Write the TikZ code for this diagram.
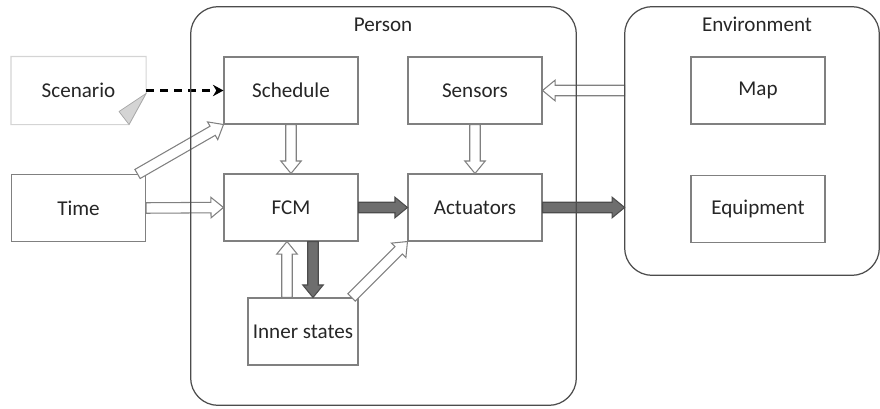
\documentclass[tikz,border=0pt]{standalone}
\usepackage{fontspec}
\setmainfont{Carlito}
\usetikzlibrary{calc,arrows.meta}
\definecolor{boxgray}{HTML}{808080}
\definecolor{notegray}{HTML}{D4D4D4}
\definecolor{darkfill}{HTML}{6E6E6E}

\begin{document}
\begin{tikzpicture}[line join=miter, >=Stealth, font=\fontsize{12}{14}\selectfont,
		box/.style={draw=boxgray, line width=0.6pt, minimum width=2.68cm, minimum height=1.34cm, text=black!85, inner sep=0pt},
		group/.style={draw=black!70, line width=0.7pt, rounded corners=0.55cm},
		hollow/.style={draw=boxgray, fill=white, line width=0.6pt},
		darkarrow/.style={draw=black!70, fill=darkfill, line width=0.6pt},
		dasharrow/.style={black, line width=1.3pt, dash pattern=on 4.6pt off 3.4pt, -{Stealth[length=6pt, width=6.5pt]}}]
	\useasboundingbox (0,0) rectangle (17.6,8.16);
	\def\blockarrow#1#2#3{
		\coordinate (h) at ($(#2)!0.25cm!(#1)$);
		\draw[#3] ($(#1)!0.105cm!90:(#2)$) -- ($(h)!0.105cm!90:(#2)$) -- ($(h)!0.205cm!90:(#2)$) -- (#2) -- ($(h)!0.205cm!-90:(#2)$) -- ($(h)!0.105cm!-90:(#2)$) -- ($(#1)!0.105cm!-90:(#2)$) -- cycle;
	}
	
	\node[minimum width=7.7cm, minimum height=7.96cm] (person) at (7.67, 4.04) {};
	\node[minimum width=5.08cm, minimum height=5.36cm] (env) at (15.04, 5.34) {};
	\node[text=black!85] (personlbl) at (7.66, 7.66) {Person};
	\node[text=black!85] (envlbl) at (15.14, 7.68) {Environment};
	
	\node[box, draw=none] (scen) at (1.57, 6.35) {Scenario};
	\draw[notegray, line width=0.6pt] (scen.north west) -- (scen.north east) -- ([yshift=0.62cm]scen.south east) -- ([xshift=-0.34cm]scen.south east) -- (scen.south west) -- cycle;
	\draw[fill=notegray, draw=boxgray!70, line width=0.4pt] ([yshift=0.62cm]scen.south east) -- ($(scen.south east)+(-0.54, 0.26)$) -- ([xshift=-0.34cm]scen.south east) -- cycle;
	
	\node[box] (sched) at (5.82, 6.35) {Schedule};
	\node[box] (sens) at (9.5, 6.35) {Sensors};
	\node[box] (time) at (1.57, 4.0) {Time};
	\node[box] (fcm) at (5.82, 4.01) {FCM};
	\node[box] (act) at (9.5, 4.01) {Actuators};
	\node[box, minimum width=2.2cm] (inner) at (6.06, 1.53) {Inner states};
	\node[box] (map) at (15.16, 6.35) {Map};
	\node[box] (equip) at (15.16, 3.98) {Equipment};
	
	\draw[dasharrow] (scen.east) -- (sched.west);
	
	\coordinate (ts) at ([xshift=-0.17cm]time.north east);
	\coordinate (iu) at ([xshift=-0.32cm]inner.north);
	\coordinate (fu) at (iu |- fcm.south);
	\coordinate (fd) at ([xshift=0.44cm]fcm.south);
	\coordinate (id) at (fd |- inner.north);
	\coordinate (ia) at ([xshift=-0.14cm]inner.north east);
	\coordinate (es) at (env.west |- sens.east);
	\coordinate (ea) at (env.west |- act.east);
	
	\blockarrow{ts}{sched.south west}{hollow}
	\blockarrow{time.east}{fcm.west}{hollow}
	\blockarrow{sched.south}{fcm.north}{hollow}
	\blockarrow{sens.south}{act.north}{hollow}
	\blockarrow{es}{sens.east}{hollow}
	\blockarrow{iu}{fu}{hollow}
	\blockarrow{ia}{act.south west}{hollow}
	\blockarrow{fcm.east}{act.west}{darkarrow}
	\blockarrow{fd}{id}{darkarrow}
	\blockarrow{act.east}{ea}{darkarrow}
	
	\draw[group] (person.south west) rectangle (person.north east);
	\draw[group] (env.south west) rectangle (env.north east);
\end{tikzpicture}
\end{document}
